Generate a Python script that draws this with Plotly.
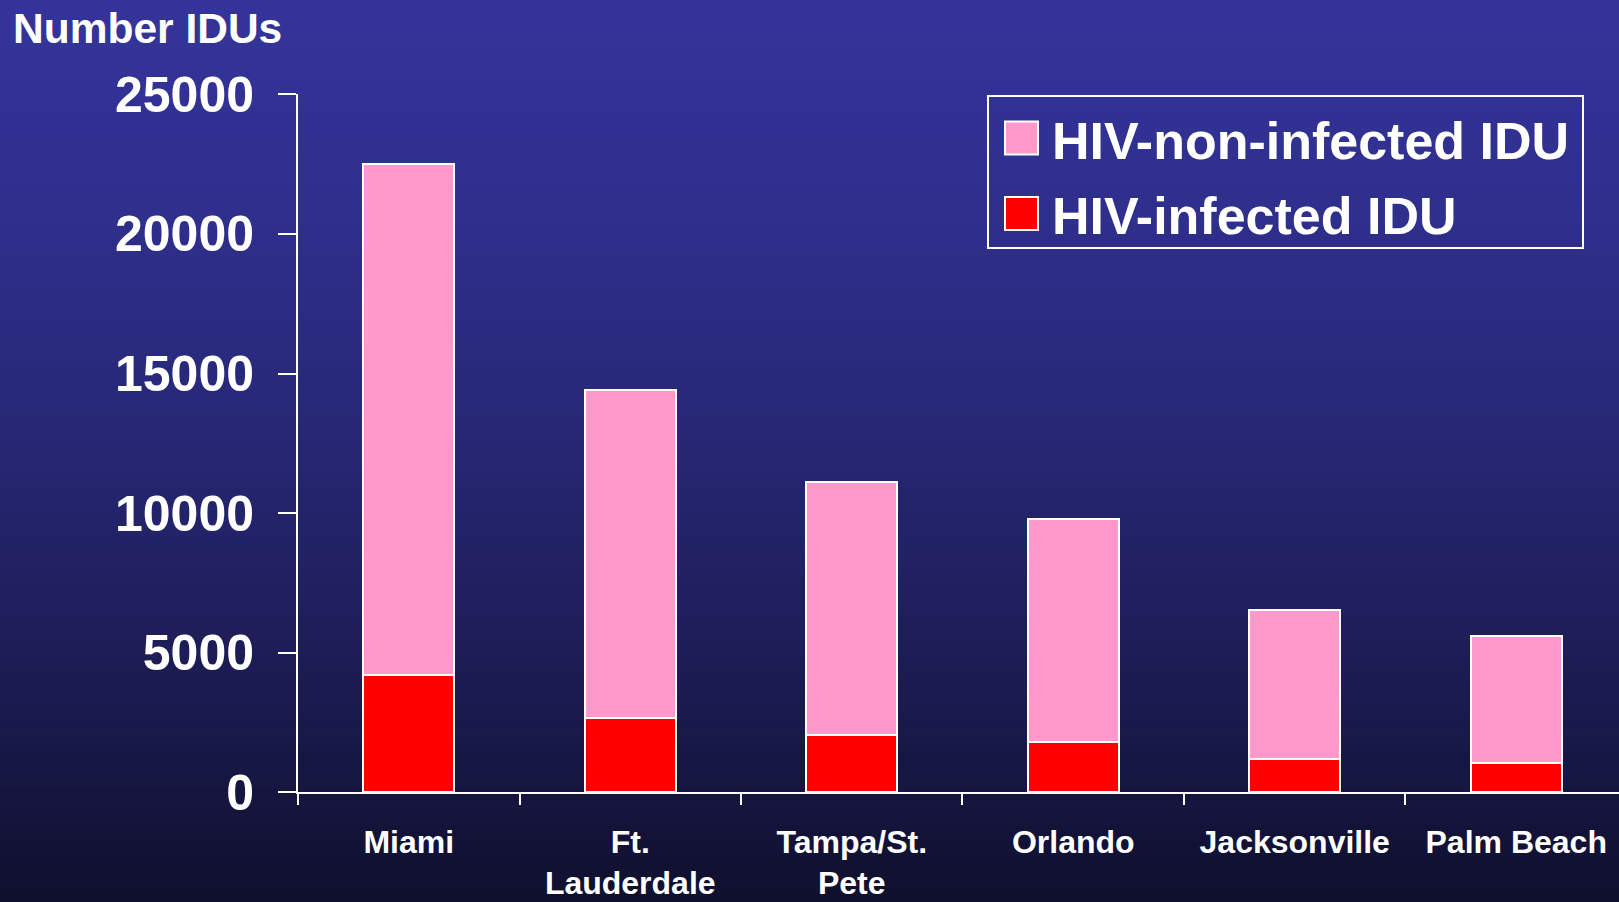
import plotly.graph_objects as go

# ---- data ----
cities = ["Miami", "Ft.<br>Lauderdale", "Tampa/St.<br>Pete", "Orlando", "Jacksonville", "Palm Beach"]
hiv_infected = [4200, 2650, 2050, 1800, 1200, 1050]
hiv_non_infected = [18300, 11750, 9050, 8000, 5320, 4550]
y_ticks = [0, 5000, 10000, 15000, 20000, 25000]
series_names = ["HIV-non-infected IDU", "HIV-infected IDU"]
y_title = "Number IDUs"

# ---- style ----
W, H = 1619, 902
PINK = "#FF99CC"
RED = "#FF0000"
FONT = "Liberation Sans, Arial, sans-serif"


def px_x(x):
    return x / W


def px_y(y):
    return 1 - y / H


fig = go.Figure()
fig.add_trace(go.Bar(
    x=cities, y=hiv_infected, name=series_names[1],
    marker=dict(color=RED, line=dict(color="white", width=2)),
    width=0.41, showlegend=False,
))
fig.add_trace(go.Bar(
    x=cities, y=hiv_non_infected, name=series_names[0],
    marker=dict(color=PINK, line=dict(color="white", width=2)),
    width=0.41, showlegend=False,
))

# gradient background bands
shapes = []
top = (51, 51, 153)
bot = (15, 15, 45)
N = 120
for i in range(N):
    t = (i + 0.5) / N
    f = t ** 1.5
    c = tuple(int(round(top[k] + (bot[k] - top[k]) * f)) for k in range(3))
    shapes.append(dict(
        type="rect", xref="paper", yref="paper", layer="below",
        x0=0, x1=1, y0=1 - (i + 1) / N - 0.001, y1=1 - i / N,
        fillcolor="rgb(%d,%d,%d)" % c, line=dict(width=0),
    ))

# manual legend
shapes.append(dict(type="rect", xref="paper", yref="paper",
                   x0=px_x(988), x1=px_x(1583), y0=px_y(248), y1=px_y(96),
                   line=dict(color="white", width=2), fillcolor="rgba(0,0,0,0)"))
legend_rows = [(series_names[0], PINK, 138), (series_names[1], RED, 213.5)]
annotations = []
for name, col, yc in legend_rows:
    shapes.append(dict(type="rect", xref="paper", yref="paper",
                       x0=px_x(1005), x1=px_x(1038), y0=px_y(yc + 16.5), y1=px_y(yc - 16.5),
                       line=dict(color="white", width=2), fillcolor=col))
    annotations.append(dict(
        text=name, xref="paper", yref="paper", x=px_x(1050), y=px_y(yc + 3),
        xanchor="left", yanchor="middle", showarrow=False,
        font=dict(family=FONT, size=52, color="white", weight="bold"),
    ))

annotations.append(dict(
    text=y_title, xref="paper", yref="paper", x=px_x(11), y=px_y(29),
    xanchor="left", yanchor="middle", showarrow=False,
    font=dict(family=FONT, size=42.5, color="white", weight="bold"),
))

fig.update_layout(
    width=W, height=H,
    margin=dict(l=0, r=0, t=0, b=0),
    paper_bgcolor="rgb(15,15,45)",
    plot_bgcolor="rgba(0,0,0,0)",
    barmode="stack",
    shapes=shapes,
    annotations=annotations,
    showlegend=False,
    xaxis=dict(
        domain=[px_x(298), 1],
        range=[-0.5, 5.464],
        showline=True, linecolor="white", linewidth=2,
        ticks="outside", tickson="boundaries", ticklen=11, tickwidth=2, tickcolor="white",
        tickfont=dict(family=FONT, size=32, color="white", weight="bold"),
        ticklabelstandoff=20,
        showgrid=False, zeroline=False, automargin=False,
    ),
    yaxis=dict(
        domain=[px_y(792.3), px_y(94.3)],
        range=[0, 25000],
        tickvals=y_ticks,
        ticktext=[str(v) for v in y_ticks],
        showline=True, linecolor="white", linewidth=2,
        ticks="outside", ticklen=18, tickwidth=2, tickcolor="white",
        tickfont=dict(family=FONT, size=50, color="white", weight="bold"),
        ticklabelstandoff=14,
        showgrid=False, zeroline=False, automargin=False,
    ),
)

fig.write_html(
    "out.html",
    config={"displayModeBar": False},
    post_script="document.body.style.margin='0';document.body.style.overflow='hidden';",
)
